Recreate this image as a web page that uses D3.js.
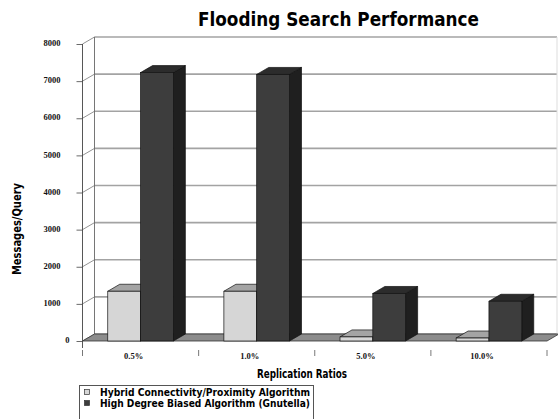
<!DOCTYPE html>
<html>
<head>
<meta charset="utf-8">
<script src="https://cdn.jsdelivr.net/npm/d3@7"></script>
<style>
  html, body { margin: 0; padding: 0; background: #fff; }
  svg { display: block; }
</style>
</head>
<body>
<svg id="chart" width="558" height="419"></svg>
<script>
// Flooding search cost per replication ratio
const categories = ["0.5%", "1.0%", "5.0%", "10.0%"];
const seriesNames = [
  "Hybrid Connectivity/Proximity Algorithm",
  "High Degree Biased Algorithm (Gnutella)"
];
const hybridValues = [1340, 1340, 110, 80];
const gnutellaValues = [7230, 7180, 1280, 1070];
const yTicks = [0, 1000, 2000, 3000, 4000, 5000, 6000, 7000, 8000];

const seriesValues = [hybridValues, gnutellaValues];

// face colours: front, top, side
const palette = [
  { front: "#d6d6d6", top: "#a4a4a4", side: "#8a8a8a" },
  { front: "#3d3d3d", top: "#2c2c2c", side: "#1f1f1f" }
];

const svg = d3.select("#chart");

// 3D frame geometry
const depth = { dx: 12, dy: -7 };
const frontLeft = 82.5, frontRight = 547;
const wallRight = 557;

const y = d3.scaleLinear().domain([0, 8000]).range([341, 44]);
const x = d3.scaleBand().domain(categories).range([frontLeft, frontRight]).padding(0);
const xs = d3.scaleBand().domain(d3.range(seriesNames.length))
  .range([0, x.bandwidth()]).paddingInner(0).paddingOuter(0.77);

const g = svg.append("g");

// back wall
const wallTop = y(8000) + depth.dy, wallBottom = y(0) + depth.dy;
g.append("rect")
  .attr("x", frontLeft + depth.dx).attr("y", wallTop)
  .attr("width", wallRight - frontLeft - depth.dx).attr("height", wallBottom - wallTop)
  .attr("fill", "#fff");

// gridlines on the back wall
g.selectAll("line.grid").data(yTicks).join("line")
  .attr("class", "grid")
  .attr("x1", frontLeft + depth.dx).attr("x2", wallRight)
  .attr("y1", d => y(d) + depth.dy).attr("y2", d => y(d) + depth.dy)
  .attr("stroke", "#a3a3a3").attr("stroke-width", 1.6);

// side wall diagonals
g.selectAll("line.side").data(yTicks).join("line")
  .attr("class", "side")
  .attr("x1", frontLeft).attr("x2", frontLeft + depth.dx)
  .attr("y1", d => y(d)).attr("y2", d => y(d) + depth.dy)
  .attr("stroke", "#777").attr("stroke-width", 0.8);

// back wall edges
g.append("line")
  .attr("x1", frontLeft + depth.dx).attr("x2", frontLeft + depth.dx)
  .attr("y1", wallTop).attr("y2", wallBottom)
  .attr("stroke", "#666").attr("stroke-width", 0.9);
g.append("line")
  .attr("x1", wallRight).attr("x2", wallRight)
  .attr("y1", wallTop).attr("y2", wallBottom)
  .attr("stroke", "#ddd").attr("stroke-width", 1);

// floor
const floorPts = [
  [frontLeft, y(0)], [frontRight, y(0)],
  [frontRight + depth.dx, y(0) + depth.dy], [frontLeft + depth.dx, y(0) + depth.dy]
];
g.append("polygon")
  .attr("points", floorPts.map(p => p.join(",")).join(" "))
  .attr("fill", "#8c8c8c").attr("stroke", "#333").attr("stroke-width", 0.8);

// front value axis
const yAxis = d3.axisLeft(y).tickValues(yTicks).tickSize(6).tickPadding(16)
  .tickFormat(d3.format("d"));
const ya = g.append("g").attr("transform", `translate(${frontLeft},0)`).call(yAxis);
ya.select(".domain").remove();
ya.selectAll(".tick line").attr("stroke", "#444").attr("stroke-width", 0.8);
ya.selectAll(".tick text")
  .attr("font-family", "'Liberation Serif', serif").attr("font-weight", "bold")
  .attr("font-size", 8.5).attr("fill", "#111").attr("dy", "0.2em")
  .filter(d => d === 0).attr("x", -13);
g.append("line")
  .attr("x1", frontLeft).attr("x2", frontLeft)
  .attr("y1", y(8000)).attr("y2", y(0) + 7)
  .attr("stroke", "#444").attr("stroke-width", 0.9);

// category ticks and labels
const boundaries = categories.map(c => x(c)).concat([frontRight]);
g.selectAll("line.ctick").data(boundaries).join("line")
  .attr("class", "ctick")
  .attr("x1", d => d).attr("x2", d => d)
  .attr("y1", y(0) + 9).attr("y2", y(0) + 15)
  .attr("stroke", "#555").attr("stroke-width", 0.8);
g.selectAll("text.clabel").data(categories).join("text")
  .attr("class", "clabel")
  .attr("x", d => x(d) + x.bandwidth() / 2 - 7).attr("y", 359)
  .attr("text-anchor", "middle")
  .attr("font-family", "'Liberation Serif', serif").attr("font-weight", "bold")
  .attr("font-size", 8.5).attr("fill", "#111")
  .text(d => d);

// 3D bars
const bars = [];
categories.forEach((c, ci) => {
  seriesValues.forEach((vals, si) => {
    bars.push({ cat: c, series: si, value: vals[ci] });
  });
});

const barG = g.selectAll("g.bar").data(bars).join("g").attr("class", "bar");
barG.each(function (d) {
  const sel = d3.select(this);
  const x0 = x(d.cat) + xs(d.series);
  const x1 = x0 + xs.bandwidth();
  const yTop = y(d.value), yBot = y(0);
  const col = palette[d.series];
  const pts = arr => arr.map(p => p.join(",")).join(" ");
  // side
  sel.append("polygon")
    .attr("points", pts([[x1, yBot], [x1 + depth.dx, yBot + depth.dy], [x1 + depth.dx, yTop + depth.dy], [x1, yTop]]))
    .attr("fill", col.side).attr("stroke", "#111").attr("stroke-width", 0.7);
  // top
  sel.append("polygon")
    .attr("points", pts([[x0, yTop], [x1, yTop], [x1 + depth.dx, yTop + depth.dy], [x0 + depth.dx, yTop + depth.dy]]))
    .attr("fill", col.top).attr("stroke", "#111").attr("stroke-width", 0.7);
  // front
  sel.append("rect")
    .attr("x", x0).attr("y", yTop).attr("width", x1 - x0).attr("height", yBot - yTop)
    .attr("fill", col.front).attr("stroke", "#111").attr("stroke-width", 0.7);
});

// titles
svg.append("text")
  .attr("x", 338.5).attr("y", 26).attr("text-anchor", "middle")
  .attr("font-family", "'DejaVu Sans', sans-serif").attr("font-weight", "bold")
  .attr("font-size", 19).attr("fill", "#000")
  .attr("textLength", 281).attr("lengthAdjust", "spacingAndGlyphs")
  .text("Flooding Search Performance");

svg.append("text")
  .attr("transform", "translate(21,229) rotate(-90)").attr("text-anchor", "middle")
  .attr("font-family", "'DejaVu Sans', sans-serif").attr("font-weight", "bold")
  .attr("font-size", 12).attr("fill", "#000")
  .attr("textLength", 92).attr("lengthAdjust", "spacingAndGlyphs")
  .text("Messages/Query");

svg.append("text")
  .attr("x", 302).attr("y", 378).attr("text-anchor", "middle")
  .attr("font-family", "'DejaVu Sans', sans-serif").attr("font-weight", "bold")
  .attr("font-size", 11.5).attr("fill", "#000")
  .attr("textLength", 90).attr("lengthAdjust", "spacingAndGlyphs")
  .text("Replication Ratios");

// legend
const legend = svg.append("g");
legend.append("rect")
  .attr("x", 79.5).attr("y", 385.5).attr("width", 234).attr("height", 45)
  .attr("fill", "#fff").attr("stroke", "#555").attr("stroke-width", 1);
const items = legend.selectAll("g.item").data(seriesNames).join("g").attr("class", "item")
  .attr("transform", (d, i) => `translate(0,${i * 11})`);
items.append("rect")
  .attr("x", 84.5).attr("y", 389.5).attr("width", 5).attr("height", 5)
  .attr("fill", (d, i) => palette[i].front).attr("stroke", "#333").attr("stroke-width", 0.7);
items.append("text")
  .attr("x", 100).attr("y", 396)
  .attr("font-family", "'DejaVu Sans', sans-serif").attr("font-weight", "bold")
  .attr("font-size", 10).attr("fill", "#000")
  .attr("textLength", 210).attr("lengthAdjust", "spacingAndGlyphs")
  .text(d => d);
</script>
</body>
</html>
